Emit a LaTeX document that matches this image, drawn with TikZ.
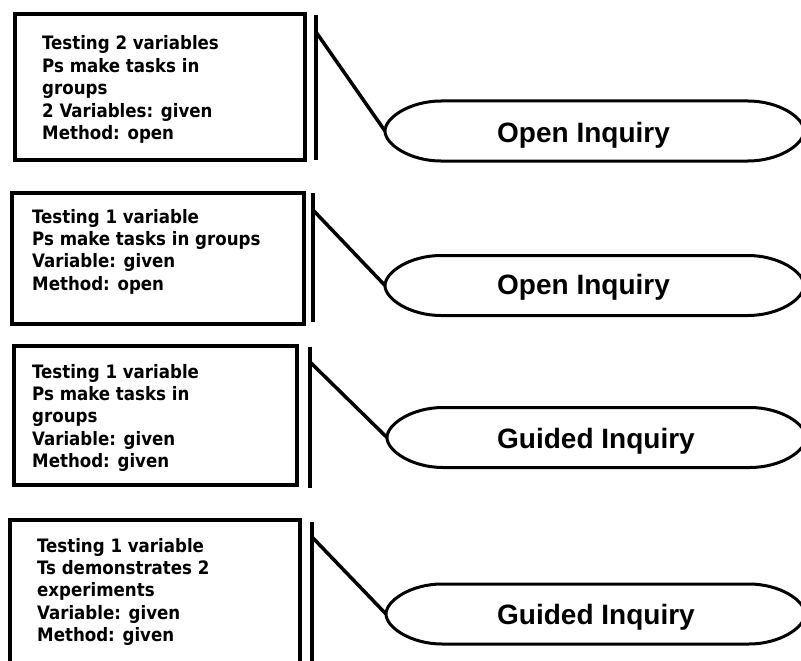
\documentclass[tikz,border=0pt]{standalone}
\usepackage{fontspec}
\setmainfont{DejaVu Sans}
\newfontfamily\cardfont{DejaVu Sans Condensed}
\newfontfamily\labelfont{Liberation Sans}
\begin{document}
\begin{tikzpicture}[x=1pt,y=-1pt,
  card/.style={draw=black, line width=4pt},
  bar/.style={draw=black, line width=4pt},
  link/.style={draw=black, line width=3.5pt},
  pillline/.style={draw=black, line width=3pt, fill=white},
  cardtext/.style={anchor=base west, inner sep=0pt,
    font=\cardfont\bfseries\fontsize{18.5}{22.4}\selectfont},
  pilltext/.style={anchor=base west, inner sep=0pt,
    font=\labelfont\bfseries\fontsize{28}{32}\selectfont},
  % flat-topped label shape with elliptical end caps, origin at the left tip
  pics/pill/.style={code={
    \coordinate (-tip) at (0,0);
    \draw[pillline] (0,0) .. controls (0,-13.4) and (25.1,-30) .. (56,-30)
      -- (363,-30) .. controls (393.9,-30) and (419,-13.4) .. (419,0)
      .. controls (419,13.4) and (393.9,30) .. (363,30)
      -- (56,30) .. controls (25.1,30) and (0,13.4) .. (0,0) -- cycle;
  }}]
\useasboundingbox (0,0) rectangle (801,661);
\clip (0,0) rectangle (801,661);

% row 1
\draw[card] (15,14) rectangle (305,160);
\draw[bar] (316,15) -- (316,160);
\coordinate (b1) at (316,32);
\pic (p1) at (385,131) {pill};
\draw[link] (b1) -- (p1-tip);
\node[cardtext] (t1) at (42,50) {\begin{tabular}[t]{@{}l@{}}Testing 2 variables\\Ps make tasks in\\groups\\2 Variables: given\\Method: open\end{tabular}};
\node[pilltext] (l1) at (497,142) {Open Inquiry};

% row 2
\draw[card] (12,193) rectangle (304,324);
\draw[bar] (313,193) -- (313,322);
\coordinate (b2) at (313,210);
\pic (p2) at (385,285.5) {pill};
\draw[link] (b2) -- (p2-tip);
\node[cardtext] (t2) at (32,223) {\begin{tabular}[t]{@{}l@{}}Testing 1 variable\\Ps make tasks in groups\\Variable: given\\Method: open\end{tabular}};
\node[pilltext] (l2) at (497,294) {Open Inquiry};

% row 3
\draw[card] (14,346) rectangle (297,485);
\draw[bar] (310,347) -- (310,488);
\coordinate (b3) at (310,362);
\pic (p3) at (387,437.5) {pill};
\draw[link] (b3) -- (p3-tip);
\node[cardtext] (t3) at (32,378) {\begin{tabular}[t]{@{}l@{}}Testing 1 variable\\Ps make tasks in\\groups\\Variable: given\\Method: given\end{tabular}};
\node[pilltext] (l3) at (497,448) {Guided Inquiry};

% row 4
\draw[card] (10,520) rectangle (300,690);
\draw[bar] (312,522) -- (312,680);
\coordinate (b4) at (312,537);
\pic (p4) at (386,614) {pill};
\draw[link] (b4) -- (p4-tip);
\node[cardtext] (t4) at (37,552) {\begin{tabular}[t]{@{}l@{}}Testing 1 variable\\Ts demonstrates 2\\experiments\\Variable: given\\Method: given\end{tabular}};
\node[pilltext] (l4) at (497,624) {Guided Inquiry};
\end{tikzpicture}
\end{document}
